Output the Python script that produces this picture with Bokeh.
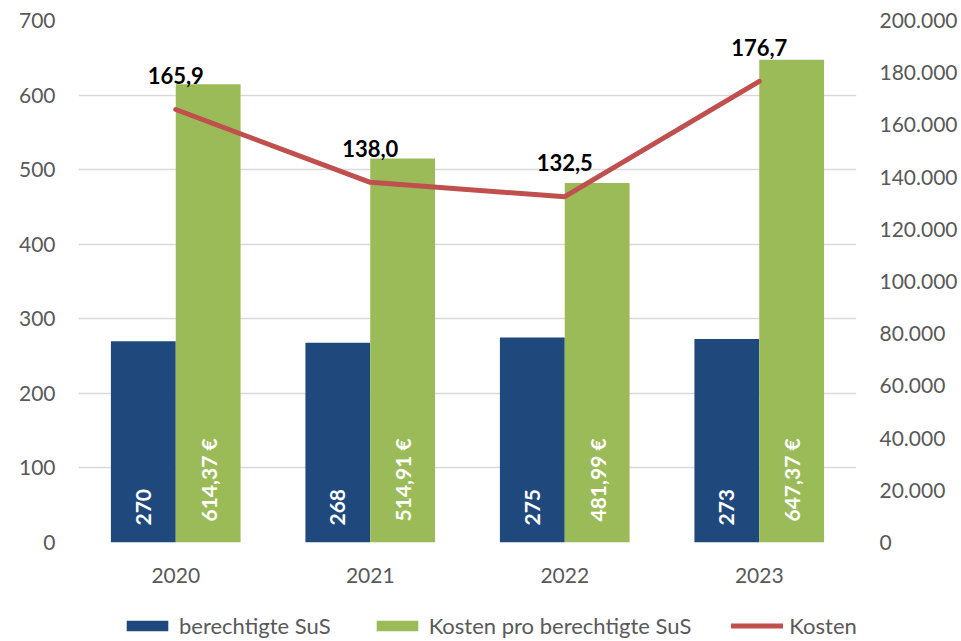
import math
from bokeh.plotting import figure
from bokeh.layouts import column
from bokeh.models import (ColumnDataSource, FactorRange, Range1d, LinearAxis,
                          FixedTicker, Legend, LegendItem)
from bokeh.transform import dodge
from bokeh.core.properties import value
from bokeh.embed import file_html
from bokeh.resources import INLINE

# ---- data ----
years = ["2020", "2021", "2022", "2023"]
berechtigte = [270, 268, 275, 273]
kosten_pro = [614.37, 514.91, 481.99, 647.37]
kosten = [165900, 138000, 132500, 176700]

left_ticks = [0, 100, 200, 300, 400, 500, 600, 700]
right_ticks = [0, 20000, 40000, 60000, 80000, 100000, 120000, 140000, 160000, 180000, 200000]
right_tick_labels = ["0", "20.000", "40.000", "60.000", "80.000", "100.000",
                     "120.000", "140.000", "160.000", "180.000", "200.000"]
series_names = ["berechtigte SuS", "Kosten pro berechtigte SuS", "Kosten"]

# ---- styling ----
BLUE = "#1F497D"
GREEN = "#9BBB59"
RED = "#C0504D"
GRAY = "#595959"
FONT = "Lato"
FS = "21px"

src = ColumnDataSource(dict(
    year=years,
    sus=berechtigte,
    kpro=kosten_pro,
    kosten=kosten,
    sus_lbl=[str(v) for v in berechtigte],
    kpro_lbl=[f"{v:.2f}".replace(".", ",") + " €" for v in kosten_pro],
    kosten_lbl=[f"{v/1000:.1f}".replace(".", ",") for v in kosten],
    zero=[0] * len(years),
))

p = figure(x_range=FactorRange(*years), y_range=Range1d(0, 700),
           width=961, height=600,
           min_border_left=78, min_border_right=105, min_border_top=20,
           min_border_bottom=58,
           output_backend="svg", toolbar_location=None)
p.extra_y_ranges = {"k": Range1d(0, 200000)}

p.outline_line_color = None
p.background_fill_color = "white"
p.border_fill_color = "white"
p.xgrid.grid_line_color = None
p.ygrid.grid_line_color = "#D9D9D9"
p.ygrid.grid_line_width = 1.3
p.ygrid.ticker = FixedTicker(ticks=left_ticks)

# left axis
ya = p.yaxis[0]
ya.ticker = FixedTicker(ticks=left_ticks)
ya.axis_line_color = None
ya.major_tick_line_color = None
ya.minor_tick_line_color = None
ya.major_tick_out = 0
ya.major_label_standoff = 23
ya.major_label_text_font = FONT
ya.major_label_text_font_size = FS
ya.major_label_text_color = GRAY

# right axis
ra = LinearAxis(y_range_name="k", ticker=FixedTicker(ticks=right_ticks),
                major_label_overrides={t: l for t, l in zip(right_ticks, right_tick_labels)})
ra.axis_line_color = None
ra.major_tick_line_color = None
ra.minor_tick_line_color = None
ra.major_tick_out = 0
ra.major_label_standoff = 23
ra.major_label_text_font = FONT
ra.major_label_text_font_size = FS
ra.major_label_text_color = GRAY
p.add_layout(ra, "right")

# x axis
xa = p.xaxis[0]
xa.axis_line_color = None
xa.major_tick_line_color = None
xa.major_tick_out = 0
xa.major_label_standoff = 25
xa.major_label_text_font = FONT
xa.major_label_text_font_size = FS
xa.major_label_text_color = GRAY

# bars
p.vbar(x=dodge("year", -1/6, range=p.x_range), top="sus", width=1/3,
       source=src, fill_color=BLUE, line_color=None)
p.vbar(x=dodge("year", 1/6, range=p.x_range), top="kpro", width=1/3,
       source=src, fill_color=GREEN, line_color=None)

# bar labels (rotated, inside base)
p.text(x=dodge("year", -1/6, range=p.x_range), y="zero", text="sus_lbl", source=src,
       angle=math.pi/2, text_align="left", text_baseline="middle", y_offset=-17,
       text_color="white", text_font=value(FONT), text_font_style="bold",
       text_font_size=FS)
p.text(x=dodge("year", 1/6, range=p.x_range), y="zero", text="kpro_lbl", source=src,
       angle=math.pi/2, text_align="left", text_baseline="middle", y_offset=-21,
       text_color="white", text_font=value(FONT), text_font_style="bold",
       text_font_size=FS)

# line
p.line(x="year", y="kosten", source=src, y_range_name="k", line_color=RED,
       line_width=5, line_cap="round", line_join="round")
p.text(x="year", y="kosten", text="kosten_lbl", source=src, y_range_name="k",
       text_align="center", text_baseline="alphabetic", y_offset=-34,
       text_color="black", text_font=value(FONT), text_font_style="bold",
       text_font_size="22px")

# ---- legend strip below the chart (frame aligned with the chart frame) ----
lg = figure(width=961, height=41, x_range=Range1d(0, 1), y_range=Range1d(0, 1),
            min_border=0, output_backend="svg", toolbar_location=None)
lg.axis.visible = False
lg.grid.visible = False
lg.outline_line_color = None
lg.background_fill_color = "white"
lg.border_fill_color = "white"
# legend-key renderers: single sample placed outside the visible range
key = ColumnDataSource(dict(x=[-10, -9], top=[-10, -9]))
r1 = lg.vbar(x="x", top="top", width=0.1, source=key, fill_color=BLUE, line_color=None)
r2 = lg.vbar(x="x", top="top", width=0.1, source=key, fill_color=GREEN, line_color=None)
r3 = lg.line(x="x", y="top", source=key, line_color=RED, line_width=5, line_cap="round")

legend = Legend(items=[LegendItem(label=series_names[0], renderers=[r1], index=0),
                       LegendItem(label=series_names[1], renderers=[r2], index=0),
                       LegendItem(label=series_names[2], renderers=[r3])],
                orientation="horizontal", location=(43, 2),
                glyph_width=52, glyph_height=13, label_standoff=6, spacing=40,
                padding=0, margin=0, border_line_color=None,
                background_fill_alpha=0,
                label_text_font=FONT, label_text_font_size="22px",
                label_text_color=GRAY)
lg.add_layout(legend, "center")

layout = column(p, lg, spacing=0)
open("out.html", "w").write(file_html(layout, INLINE))
